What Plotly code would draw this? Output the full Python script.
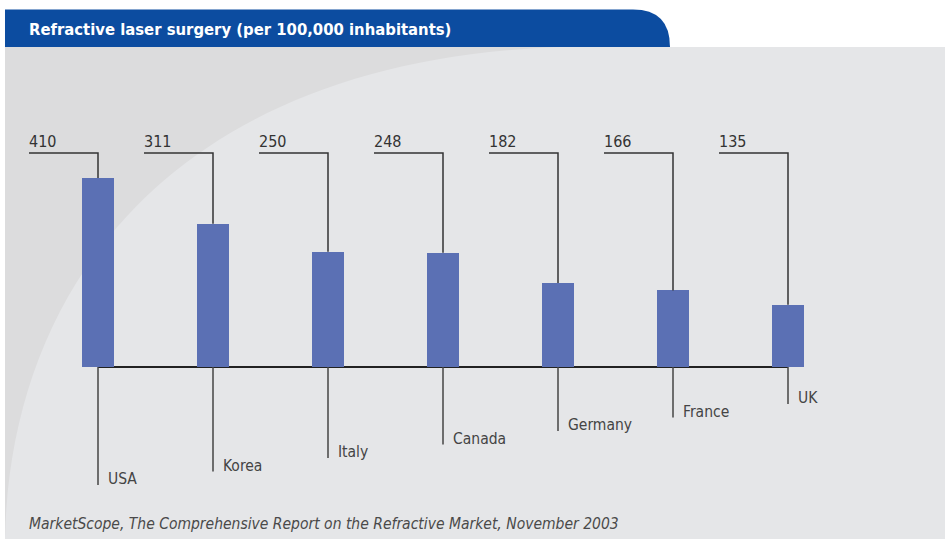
import plotly.graph_objects as go

# ---- data ----
countries = ["USA", "Korea", "Italy", "Canada", "Germany", "France", "UK"]
values = [410, 311, 250, 248, 182, 166, 135]
value_labels = ["410", "311", "250", "248", "182", "166", "135"]
title_text = "Refractive laser surgery (per 100,000 inhabitants)"
source_text = "MarketScope, The Comprehensive Report on the Refractive Market, November 2003"

# ---- geometry (layout only) ----
W, H = 945, 539
slot_px = 115.0          # px between bar centers
first_center_px = 98.0   # px of first bar center
bar_w_px = 32.0
base_px = 367.0          # baseline pixel row
px_per_unit = 0.461      # vertical px per data unit

x0 = -first_center_px / slot_px
x1 = x0 + W / slot_px
y_top = base_px / px_per_unit
y_bot = -(H - base_px) / px_per_unit

def u(px):  # vertical pixels -> data units
    return px / px_per_unit

def px2paper(x, y):
    return x / W, 1 - y / H

FONT = "DejaVu Sans Condensed, Lato, sans-serif"
BAR_COLOR = "#5b70b4"
LINE_COLOR = "#333333"

fig = go.Figure()
idx = list(range(len(countries)))
fig.add_trace(go.Bar(
    x=idx, y=values, width=bar_w_px / slot_px,
    marker=dict(color=BAR_COLOR, line=dict(width=0)),
    hoverinfo="skip", showlegend=False,
))

shapes = []
# panel background
shapes.append(dict(type="rect", xref="paper", yref="paper",
                   x0=5 / W, x1=1, y0=0, y1=1 - 47 / H,
                   fillcolor="#e5e6e8", line=dict(width=0), layer="below"))
# darker swoosh region (upper-left)
def P(x, y):
    a, b = px2paper(x, y)
    return f"{a:.5f},{b:.5f}"
swoosh = (f"M {P(5,47)} L {P(560,47)} C {P(180,60)} {P(10,280)} {P(5,539)} Z")
shapes.append(dict(type="path", xref="paper", yref="paper", path=swoosh,
                   fillcolor="#dcdcdd", line=dict(width=0), layer="below"))
# header band with rounded top-right corner
r = 37
hdr = (f"M {P(5,47)} L {P(5,9.5)} L {P(670-r,9.5)} "
       f"Q {P(670,9.5)} {P(670,47)} Z")
shapes.append(dict(type="path", xref="paper", yref="paper", path=hdr,
                   fillcolor="#0c4ca0", line=dict(width=0), layer="below"))

# baseline
shapes.append(dict(type="line", xref="x", yref="y", x0=0, x1=len(countries) - 1,
                   y0=0, y1=0, line=dict(color="#222222", width=2), layer="below"))

label_level = u(base_px - 153)   # level of the value-label leader
label_run = 69 / slot_px         # horizontal run of the value leader
annotations = []
for i, (c, v, lab) in enumerate(zip(countries, values, value_labels)):
    # value leader
    shapes.append(dict(type="path", xref="x", yref="y",
                       path=f"M {i - label_run},{label_level} L {i},{label_level} L {i},{v}",
                       line=dict(color=LINE_COLOR, width=1.5)))
    annotations.append(dict(x=i - label_run, y=label_level, xref="x", yref="y",
                            text=lab, showarrow=False, xanchor="left", yanchor="middle",
                            yshift=12, xshift=-2,
                            font=dict(family=FONT, size=16, color="#333333")))
    # category leader
    depth = -u(118 - 13.5 * i)
    shapes.append(dict(type="line", xref="x", yref="y", x0=i, x1=i, y0=0, y1=depth,
                       line=dict(color="#444444", width=1.5)))
    annotations.append(dict(x=i, y=depth, xref="x", yref="y", text=c, showarrow=False,
                            xanchor="left", yanchor="middle", xshift=8, yshift=6,
                            font=dict(family=FONT, size=15.5, color="#444444")))

tx, ty = px2paper(29, 29)
annotations.append(dict(x=tx, y=ty, xref="paper", yref="paper", text=f"<b>{title_text}</b>",
                        showarrow=False, xanchor="left", yanchor="middle", xshift=-2,
                        font=dict(family=FONT, size=16.5, color="white")))
sx, sy = px2paper(29, 524)
annotations.append(dict(x=sx, y=sy, xref="paper", yref="paper", text=f"<i>{source_text}</i>",
                        showarrow=False, xanchor="left", yanchor="middle", xshift=-2,
                        font=dict(family=FONT, size=15.5, color="#4a4a4a")))

fig.update_layout(
    width=W, height=H, margin=dict(l=0, r=0, t=0, b=0),
    paper_bgcolor="white", plot_bgcolor="rgba(0,0,0,0)",
    xaxis=dict(range=[x0, x1], visible=False, fixedrange=True),
    yaxis=dict(range=[y_bot, y_top], visible=False, fixedrange=True),
    shapes=shapes, annotations=annotations, bargap=0,
)
fig.write_html("out.html", config={"displayModeBar": False},
               post_script="document.body.style.margin='0';document.body.style.overflow='hidden';")
